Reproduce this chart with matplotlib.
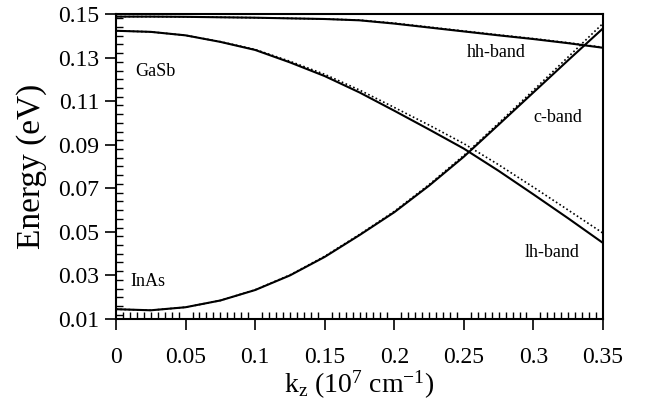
import matplotlib
matplotlib.use("Agg")
import matplotlib.pyplot as plt
from matplotlib.ticker import MultipleLocator

plt.rcParams['font.family'] = ['Liberation Serif', 'DejaVu Serif']
plt.rcParams['mathtext.fontset'] = 'custom'
plt.rcParams['mathtext.rm'] = 'Liberation Serif'
plt.rcParams['mathtext.it'] = 'Liberation Serif:italic'

k = [0.0, 0.025, 0.05, 0.075, 0.1, 0.125, 0.15, 0.175, 0.2, 0.225, 0.25, 0.275, 0.3, 0.325, 0.35]

hh_solid = [0.1488, 0.1488, 0.1487, 0.1485, 0.1483, 0.1480, 0.1477, 0.1471, 0.1456, 0.1438, 0.1420, 0.1402, 0.1385, 0.1366, 0.1345]
hh_dotted = [0.1488, 0.1488, 0.1487, 0.1485, 0.1483, 0.1480, 0.1477, 0.1472, 0.1458, 0.1440, 0.1422, 0.1404, 0.1387, 0.1368, 0.1347]

lh_solid = [0.1423, 0.1418, 0.1402, 0.1372, 0.1335, 0.1278, 0.1215, 0.1140, 0.1056, 0.0970, 0.0882, 0.0780, 0.0672, 0.0562, 0.0449]
lh_dotted = [0.1423, 0.1418, 0.1402, 0.1373, 0.1337, 0.1283, 0.1223, 0.1151, 0.1071, 0.0990, 0.0905, 0.0808, 0.0705, 0.0600, 0.0494]

c_solid = [0.0145, 0.0140, 0.0154, 0.0185, 0.0233, 0.0300, 0.0385, 0.0485, 0.0590, 0.0712, 0.0845, 0.0992, 0.1140, 0.1288, 0.1434]
c_dotted = [0.0145, 0.0140, 0.0154, 0.0185, 0.0234, 0.0302, 0.0388, 0.0488, 0.0594, 0.0717, 0.0851, 0.0999, 0.1150, 0.1303, 0.1457]

x_ticks = [0, 0.05, 0.1, 0.15, 0.2, 0.25, 0.3, 0.35]
x_tick_labels = ['0', '0.05', '0.1', '0.15', '0.2', '0.25', '0.3', '0.35']
y_ticks = [0.01, 0.03, 0.05, 0.07, 0.09, 0.11, 0.13, 0.15]
y_tick_labels = ['0.01', '0.03', '0.05', '0.07', '0.09', '0.11', '0.13', '0.15']

fig = plt.figure(figsize=(6.47, 4.07), dpi=100)
ax = fig.add_axes([116/647, 1 - 319/407, (603-116)/647, (319-14)/407])

for ys in (hh_dotted, lh_dotted, c_dotted):
    ax.plot(k, ys, color='black', lw=1.2, ls=(0, (1, 1.5)))
for ys in (hh_solid, lh_solid, c_solid):
    ax.plot(k, ys, color='black', lw=1.5)

ax.set_xlim(0, 0.35)
ax.set_ylim(0.01, 0.15)
ax.set_xticks(x_ticks)
ax.set_xticklabels(x_tick_labels)
ax.set_yticks(y_ticks)
ax.set_yticklabels(y_tick_labels)
ax.xaxis.set_minor_locator(MultipleLocator(0.005))
ax.yaxis.set_minor_locator(MultipleLocator(0.004))
ax.tick_params(which='major', direction='out', length=8, width=1.2, labelsize=17, pad=12)
ax.tick_params(which='minor', direction='in', length=5, width=1.0)
ax.tick_params(axis='y', which='major', pad=4)
for s in ax.spines.values():
    s.set_linewidth(1.5)

ax.set_ylabel('Energy (eV)', fontsize=24, labelpad=8)
ax.set_xlabel(r'k$_{\mathrm{z}}$ (10$^{7}$ cm$^{\mathrm{-1}}$)', fontsize=20, labelpad=1)

ax.text(0.0137, 0.1234, 'GaSb', fontsize=13, va='center', ha='left')
ax.text(0.010, 0.027, 'InAs', fontsize=13, va='center', ha='left')
ax.text(0.2523, 0.1321, 'hh-band', fontsize=13, va='center', ha='left')
ax.text(0.2997, 0.1027, 'c-band', fontsize=13, va='center', ha='left')
ax.text(0.294, 0.0403, 'lh-band', fontsize=13, va='center', ha='left')

fig.savefig('out.png', dpi=100)
